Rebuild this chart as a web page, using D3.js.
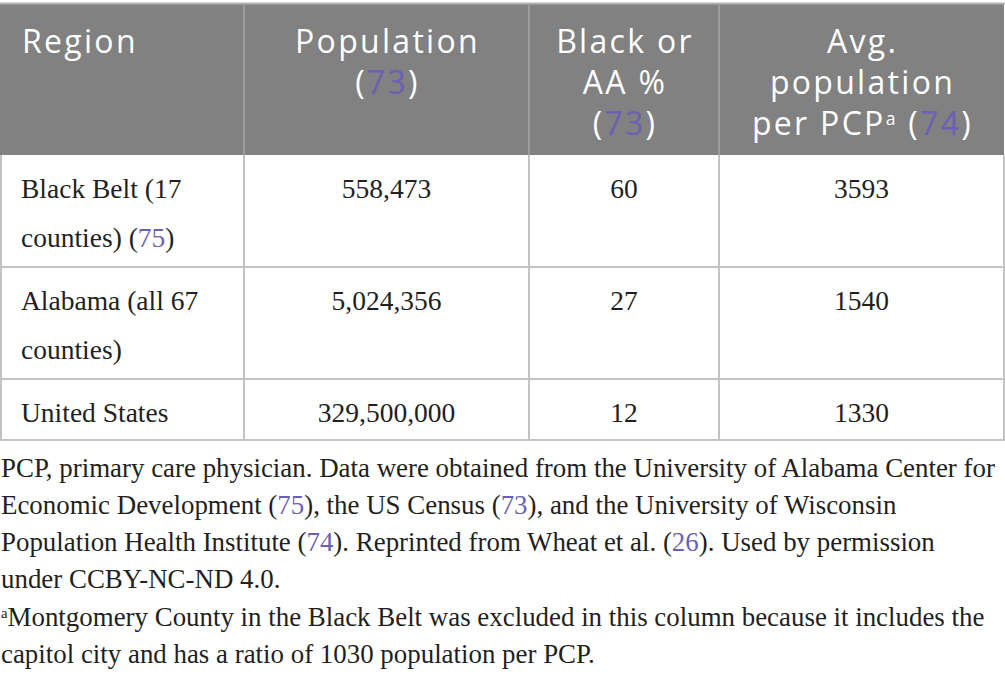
<!DOCTYPE html>
<html>
<head>
<meta charset="utf-8">
<script src="https://cdn.jsdelivr.net/npm/d3@7"></script>
<style>
  html, body { margin: 0; padding: 0; background: #fff; }
</style>
</head>
<body>
<div class="container"></div>
<script>
// table content
const columns = ['Region', 'Population', 'Black or AA %', 'Avg. population per PCP']
const regions = ['Black Belt (17 counties)', 'Alabama (all 67 counties)', 'United States']
const population = [558473, 5024356, 329500000]
const blackPct = [60, 27, 12]
const popPerPCP = [3593, 1540, 1330]

// wrapped lines as runs of [text, kind]
const headerLines = [
  [[['Region']]],
  [[['Population']], [['('], ['73', 'cite'], [')']]],
  [[['Black or']], [['AA %']], [['('], ['73', 'cite'], [')']]],
  [[['Avg.']], [['population']], [['per PCP'], ['a', 'sup'], [' ('], ['74', 'cite'], [')']]]
]
const regionLines = [
  [[['Black Belt (17']], [['counties) ('], ['75', 'cite'], [')']]],
  [[['Alabama (all 67']], [['counties)']]],
  [[['United States']]]
]
const noteLines = [
  [['PCP, primary care physician. Data were obtained from the University of Alabama Center for']],
  [['Economic Development ('], ['75', 'cite'], ['), the US Census ('], ['73', 'cite'], ['), and the University of Wisconsin']],
  [['Population Health Institute ('], ['74', 'cite'], ['). Reprinted from Wheat et al. ('], ['26', 'cite'], ['). Used by permission']],
  [['under CCBY-NC-ND 4.0.']],
  [['a', 'sup'], ['Montgomery County in the Black Belt was excluded in this column because it includes the']],
  [['capitol city and has a ratio of 1030 population per PCP.']]
]

const W = 1005
const H = 680
const colWidths = [244, 285, 190, 285]
const headerTop = 4
const headerH = 151
const lineH = 49
const headerLineH = 41
const citeColor = '#6b5fb6'
const textColor = '#231f20'
const gridColor = '#c3c3c3'
const serif = '"Liberation Serif", "Times New Roman", serif'
const headSize = 32

const svg = d3.select('.container').append('svg')
  .attr('width', W).attr('height', H)
  .style('display', 'block')

// column edges via a linear scale over cumulative widths
const edges = Array.from(d3.cumsum([0, ...colWidths]))
const xEdge = d3.scaleLinear().domain([0, edges[edges.length - 1]]).range([0, 1004])
const colLeft = (i) => xEdge(edges[i])
const colRight = (i) => xEdge(edges[i + 1])
const colMid = (i) => (colLeft(i) + colRight(i)) / 2
const tableRight = colRight(columns.length - 1)

const rows = regions.map((r, i) => ({
  lines: regionLines[i],
  values: [d3.format(',')(population[i]), String(blackPct[i]), String(popPerPCP[i])]
}))
const rowHeights = rows.map((d) => d.lines.length * 51 + 10)
const rowTops = Array.from(d3.cumsum([headerTop + headerH, ...rowHeights]))
const tableBottom = rowTops[rowTops.length - 1]

function addRuns(textSel, runs, size) {
  runs.forEach(([t, kind]) => {
    const ts = textSel.append('tspan').text(t)
    if (kind === 'cite') ts.attr('fill', citeColor)
    if (kind === 'sup') ts.attr('font-size', size * 0.55).attr('baseline-shift', '55%')
  })
}

// header
svg.append('rect')
  .attr('x', 0).attr('y', headerTop)
  .attr('width', tableRight).attr('height', headerH)
  .attr('fill', '#808180')
svg.append('line')
  .attr('x1', 0).attr('x2', tableRight + 1)
  .attr('y1', headerTop - 0.5).attr('y2', headerTop - 0.5)
  .attr('stroke', '#b4b4b4').attr('stroke-width', 2)

columns.forEach((c, i) => {
  if (i > 0) {
    svg.append('line')
      .attr('x1', colLeft(i)).attr('x2', colLeft(i))
      .attr('y1', headerTop).attr('y2', headerTop + headerH)
      .attr('stroke', '#9c9c9c').attr('stroke-width', 2)
  }
  headerLines[i].forEach((runs, j) => {
    const t = svg.append('text')
      .attr('x', i === 0 ? colLeft(i) + 22 : colMid(i) + 1)
      .attr('y', headerTop + 49 + j * headerLineH)
      .attr('text-anchor', i === 0 ? 'start' : 'middle')
      .attr('font-family', '"Open Sans", sans-serif')
      .attr('font-size', headSize)
      .attr('letter-spacing', 2.3)
      .attr('fill', '#ffffff')
    addRuns(t, runs, headSize)
  })
})

// body rows
rows.forEach((row, r) => {
  const top = rowTops[r]
  row.lines.forEach((runs, j) => {
    const t = svg.append('text')
      .attr('x', colLeft(0) + 21)
      .attr('y', top + 43 + j * lineH)
      .attr('font-family', serif)
      .attr('font-size', 27.5)
      .attr('fill', textColor)
    addRuns(t, runs, 27.5)
  })
  row.values.forEach((v, k) => {
    svg.append('text')
      .attr('x', colMid(k + 1))
      .attr('y', top + 43)
      .attr('text-anchor', 'middle')
      .attr('font-family', serif)
      .attr('font-size', 27.5)
      .attr('fill', textColor)
      .text(v)
  })
  svg.append('line')
    .attr('x1', 0).attr('x2', tableRight + 1)
    .attr('y1', rowTops[r + 1]).attr('y2', rowTops[r + 1])
    .attr('stroke', gridColor).attr('stroke-width', 2)
})

// vertical grid in body
d3.range(columns.length + 1).forEach((i) => {
  const x = i === 0 ? 1 : (i === columns.length ? tableRight : colLeft(i))
  svg.append('line')
    .attr('x1', x).attr('x2', x)
    .attr('y1', headerTop + headerH).attr('y2', tableBottom + 1)
    .attr('stroke', gridColor).attr('stroke-width', 2)
})

// footnotes
const noteBase = [477, 514, 551, 588, 626, 663]
noteLines.forEach((runs, i) => {
  const t = svg.append('text')
    .attr('x', 1)
    .attr('y', noteBase[i])
    .attr('font-family', serif)
    .attr('font-size', 26.9)
    .attr('fill', textColor)
  addRuns(t, runs, 26.9)
})
</script>
</body>
</html>
